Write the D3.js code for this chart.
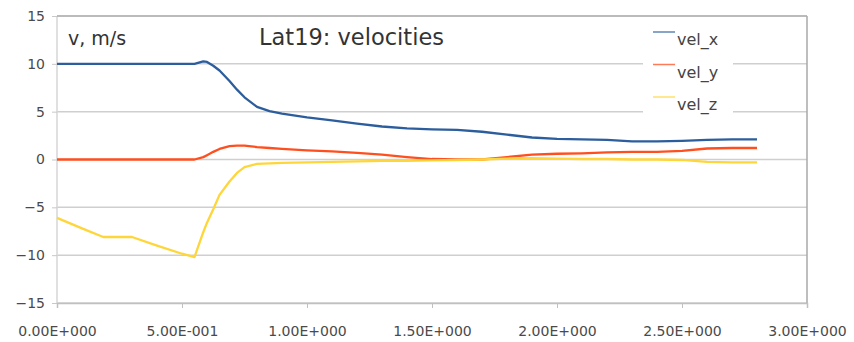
<!DOCTYPE html>
<html>
<head>
<meta charset="utf-8">
<script src="https://cdn.jsdelivr.net/npm/d3@7"></script>
<style>
  body { margin: 0; background: #fff; }
  svg { display: block; font-family: "DejaVu Sans", sans-serif; }
</style>
</head>
<body>
<svg id="chart" width="854" height="342"></svg>
<script>
// Time samples (s) shared by the three velocity series
var times = [0, 0.1, 0.185, 0.3, 0.4, 0.5, 0.55, 0.585, 0.6, 0.625, 0.65, 0.69, 0.72, 0.75,
             0.8, 0.85, 0.9, 1.0, 1.1, 1.2, 1.3, 1.4, 1.5, 1.6, 1.7, 1.8, 1.9, 2.0,
             2.1, 2.2, 2.3, 2.4, 2.5, 2.6, 2.7, 2.8];

var velX = [10, 10, 10, 10, 10, 10, 10, 10.25, 10.2, 9.8, 9.3, 8.2, 7.3, 6.5,
            5.5, 5.05, 4.8, 4.4, 4.1, 3.75, 3.45, 3.25, 3.15, 3.1, 2.9, 2.6, 2.3, 2.15,
            2.1, 2.05, 1.9, 1.9, 1.95, 2.05, 2.1, 2.1];

var velY = [0, 0, 0, 0, 0, 0, 0, 0.25, 0.45, 0.8, 1.1, 1.4, 1.45, 1.45,
            1.3, 1.2, 1.1, 0.95, 0.85, 0.7, 0.5, 0.25, 0.05, 0, 0, 0.25, 0.5, 0.6,
            0.65, 0.75, 0.8, 0.8, 0.9, 1.15, 1.2, 1.2];

var velZ = [-6.1, -7.2, -8.1, -8.1, -9.0, -9.85, -10.2, -7.6, -6.6, -5.2, -3.7, -2.3, -1.4, -0.8,
            -0.45, -0.4, -0.35, -0.3, -0.25, -0.2, -0.15, -0.15, -0.1, -0.05, 0, 0.1, 0.15, 0.1,
            0.05, 0.05, 0, 0, -0.05, -0.25, -0.3, -0.3];

var seriesNames = ["vel_x", "vel_y", "vel_z"];
var seriesColors = ["#2c5d9c", "#ff4f1f", "#ffd63a"];
var yTicks = [-15, -10, -5, 0, 5, 10, 15];
var xTicks = [0, 0.5, 1, 1.5, 2, 2.5, 3];

var margin = {top: 16, right: 47, bottom: 39, left: 57};
var width = 854 - margin.left - margin.right;
var height = 342 - margin.top - margin.bottom;

var svg = d3.select("#chart");
var g = svg.append("g").attr("transform", "translate(" + margin.left + "," + margin.top + ")");

var x = d3.scaleLinear().domain([0, 3]).range([0, width]);
var y = d3.scaleLinear().domain([-15, 15]).range([height, 0]);

// LibreOffice style scientific labels: 5.00E-001
function sciFormat(d) {
    if (d === 0) return "0.00E+000";
    var exp = Math.floor(Math.log10(Math.abs(d)));
    var mant = d / Math.pow(10, exp);
    var sign = exp < 0 ? "-" : "+";
    return mant.toFixed(2) + "E" + sign + String(Math.abs(exp)).padStart(3, "0");
}

// horizontal grid
g.selectAll("line.grid")
    .data(yTicks)
    .enter()
    .append("line")
    .attr("class", "grid")
    .attr("x1", 0)
    .attr("x2", width)
    .attr("y1", function (d) { return y(d); })
    .attr("y2", function (d) { return y(d); })
    .attr("stroke", "#cfcfcf")
    .attr("stroke-width", 1.5);

// plot frame: left light, right darker
g.append("line")
    .attr("x1", 0).attr("x2", 0).attr("y1", 0).attr("y2", height)
    .attr("stroke", "#d6d6d6").attr("stroke-width", 1.5);
g.append("line")
    .attr("x1", width).attr("x2", width).attr("y1", 0).attr("y2", height)
    .attr("stroke", "#a8a8a8").attr("stroke-width", 1.5);
g.append("line")
    .attr("x1", 0).attr("x2", width).attr("y1", 0).attr("y2", 0)
    .attr("stroke", "#b0b0b0").attr("stroke-width", 1.5);

// axes
var yAxis = g.append("g")
    .call(d3.axisLeft(y).tickValues(yTicks).tickSize(5).tickPadding(7));
yAxis.select(".domain").remove();
yAxis.selectAll(".tick line").attr("stroke", "#c8c8c8");

var xAxis = g.append("g")
    .attr("transform", "translate(0," + height + ")")
    .call(d3.axisBottom(x).tickValues(xTicks).tickSize(5).tickPadding(18).tickFormat(sciFormat));
xAxis.select(".domain").attr("stroke", "#c0c0c0").attr("stroke-width", 1.5);
xAxis.selectAll(".tick line").attr("stroke", "#c0c0c0");

[xAxis, yAxis].forEach(function (ax) {
    ax.attr("font-family", "DejaVu Sans").attr("font-size", 14);
    ax.selectAll(".tick text").attr("fill", "#4a4a4a");
});

// series lines
var allSeries = [velX, velY, velZ];
var line = d3.line()
    .x(function (d, i) { return x(times[i]); })
    .y(function (d) { return y(d); });

allSeries.forEach(function (vals, k) {
    g.append("path")
        .datum(vals)
        .attr("fill", "none")
        .attr("stroke", seriesColors[k])
        .attr("stroke-width", 2.3)
        .attr("stroke-linejoin", "round")
        .attr("d", line);
});

// texts
svg.append("text")
    .attr("x", 68)
    .attr("y", 45)
    .attr("fill", "#333")
    .style("font-size", "19px")
    .text("v, m/s");

svg.append("text")
    .attr("x", 259)
    .attr("y", 45)
    .attr("fill", "#333")
    .style("font-size", "22.5px")
    .text("Lat19: velocities");

// legend
var legend = svg.append("g");
legend.append("rect")
    .attr("x", 643)
    .attr("y", 22)
    .attr("width", 90)
    .attr("height", 94)
    .attr("fill", "#fff");

seriesNames.forEach(function (name, i) {
    legend.append("line")
        .attr("x1", 653)
        .attr("x2", 675)
        .attr("y1", 32 + i * 32.5)
        .attr("y2", 32 + i * 32.5)
        .attr("stroke", seriesColors[i])
        .attr("stroke-opacity", 0.75)
        .attr("stroke-width", 1.5);
    legend.append("text")
        .attr("x", 677)
        .attr("y", 45 + i * 32.5)
        .attr("fill", "#444")
        .style("font-size", "16px")
        .text(name);
});
</script>
</body>
</html>
